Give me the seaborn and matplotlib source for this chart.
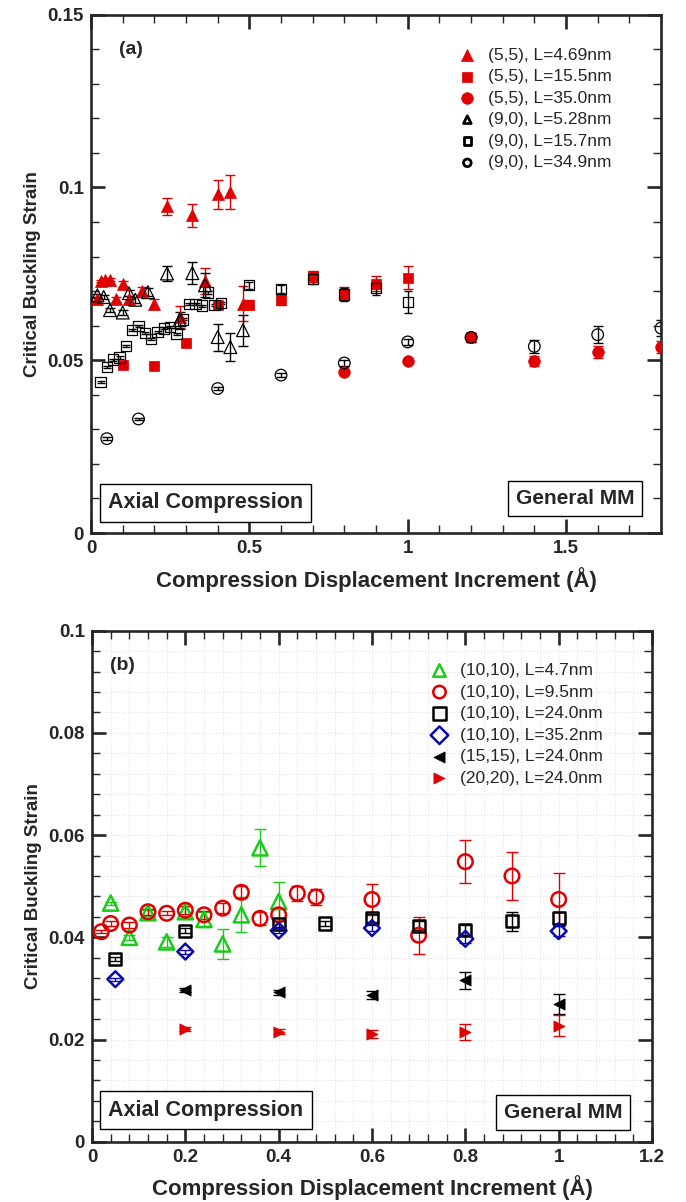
import numpy as np
import pandas as pd
import matplotlib
matplotlib.use("Agg")
import matplotlib.pyplot as plt
import seaborn as sns
from matplotlib.ticker import MultipleLocator, FuncFormatter

# ---------------- panel (a): (5,5) armchair vs (9,0) zigzag ----------------
a55_s_x = [0.02, 0.03, 0.045, 0.06, 0.08, 0.10, 0.12, 0.16, 0.20, 0.24, 0.28, 0.32, 0.36, 0.40, 0.44, 0.48]
a55_s_y = [0.0676, 0.0729, 0.0733, 0.0733, 0.0676, 0.0720, 0.0676, 0.0700, 0.0662, 0.0945, 0.0625,
           0.0919, 0.0729, 0.0980, 0.0987, 0.0664]
a55_s_e = [0.0004, 0.0004, 0.0004, 0.0004, 0.0008, 0.0008, 0.0010, 0.0012, 0.0015, 0.0025, 0.0031,
           0.0034, 0.0038, 0.0042, 0.0048, 0.0050]

a55_m_x = [0.10, 0.20, 0.30, 0.40, 0.50, 0.60, 0.70, 0.80, 0.90, 1.00]
a55_m_y = [0.0486, 0.0483, 0.0550, 0.0659, 0.0661, 0.0675, 0.0743, 0.0693, 0.0722, 0.0739]
a55_m_e = [0.0003, 0.0003, 0.0004, 0.0006, 0.0012, 0.0015, 0.0016, 0.0018, 0.0022, 0.0034]

a55_l_x = [0.8, 1.0, 1.2, 1.4, 1.6, 1.8]
a55_l_y = [0.0466, 0.0498, 0.0566, 0.0498, 0.0524, 0.0538]
a55_l_e = [0.0004, 0.0006, 0.0012, 0.0015, 0.0018, 0.0018]

a90_s_x = [0.02, 0.04, 0.06, 0.10, 0.12, 0.14, 0.18, 0.24, 0.28, 0.32, 0.36, 0.40, 0.44, 0.48]
a90_s_y = [0.0688, 0.0683, 0.0645, 0.0638, 0.0694, 0.0675, 0.0697, 0.0751, 0.0616, 0.0752, 0.0717,
           0.0567, 0.0538, 0.0587]
a90_s_e = [0.0005, 0.0005, 0.0006, 0.0007, 0.0008, 0.0009, 0.0012, 0.0021, 0.0025, 0.0032, 0.0035,
           0.0039, 0.0041, 0.0045]

a90_m_x = [0.03, 0.05, 0.07, 0.09, 0.11, 0.13, 0.15, 0.17, 0.19, 0.21, 0.23, 0.25, 0.27, 0.29, 0.31,
           0.33, 0.35, 0.37, 0.39, 0.41, 0.50, 0.60, 0.70, 0.80, 0.90, 1.00]
a90_m_y = [0.0436, 0.0481, 0.0502, 0.0508, 0.0542, 0.0587, 0.0599, 0.0579, 0.0562, 0.0582, 0.0592,
           0.0596, 0.0577, 0.0618, 0.0662, 0.0662, 0.0658, 0.0696, 0.0659, 0.0666, 0.0717, 0.0707,
           0.0736, 0.0690, 0.0710, 0.0669]
a90_m_e = [0.0003] * 20 + [0.0010, 0.0012, 0.0016, 0.0018, 0.0022, 0.0031]

a90_l_x = [0.05, 0.15, 0.40, 0.60, 0.80, 1.00, 1.20, 1.40, 1.60, 1.80]
a90_l_y = [0.0273, 0.0330, 0.0418, 0.0457, 0.0492, 0.0553, 0.0566, 0.0540, 0.0574, 0.0593]
a90_l_e = [0.0004, 0.0004, 0.0005, 0.0006, 0.0008, 0.0008, 0.0012, 0.0020, 0.0024, 0.0024]

a_labels = ["(5,5), L=4.69nm", "(5,5), L=15.5nm", "(5,5), L=35.0nm",
            "(9,0), L=5.28nm", "(9,0), L=15.7nm", "(9,0), L=34.9nm"]
a_xticks = [0, 0.5, 1, 1.5]
a_yticks = [0, 0.05, 0.1, 0.15]

# ---------------- panel (b): larger armchair tubes ----------------
b1010a_x = [0.04, 0.08, 0.12, 0.16, 0.20, 0.24, 0.28, 0.32, 0.36, 0.40]
b1010a_y = [0.0467, 0.0400, 0.0448, 0.0391, 0.0450, 0.0435, 0.0387, 0.0444, 0.0575, 0.0470]
b1010a_e = [0.0003, 0.0005, 0.0006, 0.0010, 0.0012, 0.0015, 0.0030, 0.0034, 0.0036, 0.0039]

b1010b_x = [0.02, 0.04, 0.08, 0.12, 0.16, 0.20, 0.24, 0.28, 0.32, 0.36, 0.40, 0.44, 0.48,
            0.60, 0.70, 0.80, 0.90, 1.00]
b1010b_y = [0.0411, 0.0427, 0.0424, 0.0450, 0.0447, 0.0453, 0.0444, 0.0457, 0.0488, 0.0437,
            0.0444, 0.0486, 0.0479, 0.0474, 0.0404, 0.0548, 0.0520, 0.0474]
b1010b_e = [0.0003, 0.0004, 0.0005, 0.0006, 0.0004, 0.0008, 0.0008, 0.0010, 0.0012, 0.0012,
            0.0013, 0.0015, 0.0016, 0.0031, 0.0036, 0.0042, 0.0047, 0.0051]

b1010c_x = [0.05, 0.2, 0.4, 0.5, 0.6, 0.7, 0.8, 0.9, 1.0]
b1010c_y = [0.0358, 0.0413, 0.0426, 0.0427, 0.0437, 0.0423, 0.0414, 0.0431, 0.0437]
b1010c_e = [0.0004, 0.0005, 0.0005, 0.0005, 0.0008, 0.0008, 0.0010, 0.0019, 0.0012]

b1010d_x = [0.05, 0.2, 0.4, 0.6, 0.8, 1.0]
b1010d_y = [0.0318, 0.0372, 0.0413, 0.0418, 0.0397, 0.0412]
b1010d_e = [0.0003, 0.0004, 0.0005, 0.0006, 0.0008, 0.0010]

b1515_x = [0.2, 0.4, 0.6, 0.8, 1.0]
b1515_y = [0.0296, 0.0292, 0.0287, 0.0316, 0.0269]
b1515_e = [0.0004, 0.0005, 0.0008, 0.0017, 0.0020]

b2020_x = [0.2, 0.4, 0.6, 0.8, 1.0]
b2020_y = [0.0220, 0.0215, 0.0211, 0.0215, 0.0227]
b2020_e = [0.0004, 0.0005, 0.0008, 0.0016, 0.0020]

b_labels = ["(10,10), L=4.7nm", "(10,10), L=9.5nm", "(10,10), L=24.0nm",
            "(10,10), L=35.2nm", "(15,15), L=24.0nm", "(20,20), L=24.0nm"]
b_xticks = [0, 0.2, 0.4, 0.6, 0.8, 1, 1.2]
b_yticks = [0, 0.02, 0.04, 0.06, 0.08, 0.1]

# ---------------- styling ----------------
sns.set_style("ticks")
plt.rcParams["font.family"] = ["Liberation Sans", "DejaVu Sans"]
plt.rcParams["axes.linewidth"] = 1.9

RED = "#e00000"
GREEN = "#19cc19"
BLUE = "#0a0aa8"
BLACK = "#000000"


def draw_series(ax, x, y, err, label, marker, color, size, filled, lw, capsize, elw):
    df = pd.DataFrame({"x": x, "y": y})
    ax.errorbar(x, y, yerr=err, fmt="none", ecolor=color, elinewidth=elw,
                capsize=capsize, capthick=elw, zorder=2)
    if filled:
        kw = dict(color=color, edgecolor=color, linewidth=0.5)
    else:
        kw = dict(facecolor="none", edgecolor=color, linewidth=lw)
    sns.scatterplot(data=df, x="x", y="y", marker=marker, s=size, ax=ax,
                    label=label, zorder=3, legend=False, **kw)


def style_axes(ax, xlim, ylim, xmin, ymin, xticks, yticks):
    ax.set_xlim(*xlim)
    ax.set_ylim(*ylim)
    ax.set_xticks(xticks)
    ax.set_yticks(yticks)
    ax.xaxis.set_minor_locator(MultipleLocator(xmin))
    ax.yaxis.set_minor_locator(MultipleLocator(ymin))
    fmt = FuncFormatter(lambda v, p: f"{v:g}")
    ax.xaxis.set_major_formatter(fmt)
    ax.yaxis.set_major_formatter(fmt)
    ax.tick_params(which="both", direction="in", top=True, right=True)
    ax.tick_params(which="major", length=10, width=1.9, labelsize=13.5, pad=5)
    ax.tick_params(which="minor", length=5.5, width=1.0)
    for lab in ax.get_xticklabels() + ax.get_yticklabels():
        lab.set_fontweight("bold")
    for sp in ax.spines.values():
        sp.set_visible(True)
        sp.set_linewidth(1.9)
    ax.set_xlabel("Compression Displacement Increment (\u00c5)", fontsize=16,
                  fontweight="bold", labelpad=7)
    ax.set_ylabel("Critical Buckling Strain", fontsize=13.5, fontweight="bold", labelpad=5)


def add_boxes(ax, panel, panel_x, left_pos, right_pos):
    ax.text(panel_x, 0.932, panel, transform=ax.transAxes,
            fontsize=14, fontweight="bold", ha="center", va="center")
    box = dict(boxstyle="square,pad=0.38", fc="white", ec="black", lw=1.0)
    ax.text(*left_pos, "Axial Compression", transform=ax.transAxes, fontsize=15.5,
            fontweight="bold", ha="center", va="center", bbox=box, zorder=5)
    ax.text(*right_pos, "General MM", transform=ax.transAxes, fontsize=15,
            fontweight="bold", ha="center", va="center", bbox=box, zorder=5)


def finish_legend(ax, anchor, open_idx, open_size, open_lw):
    leg = ax.legend(loc="upper left", bbox_to_anchor=anchor, frameon=False, fontsize=12.5,
                    handlelength=1.0, handletextpad=0.7, labelspacing=0.37, borderpad=0,
                    borderaxespad=0, scatterpoints=1)
    handles = leg.legend_handles
    for i in open_idx:
        handles[i].set_sizes([open_size])
        handles[i].set_linewidth(open_lw)
    return leg


fig = plt.figure(figsize=(6.86, 12.02), dpi=100)
ax_a = fig.add_axes([91 / 686, 1 - 533 / 1202, 570 / 686, 518.3 / 1202])
ax_b = fig.add_axes([92 / 686, 1 - 1141.7 / 1202, 560 / 686, 511 / 1202])

# panel (a)
draw_series(ax_a, a55_s_x, a55_s_y, a55_s_e, a_labels[0], "^", RED, 75, True, 1.0, 3.5, 1.0)
draw_series(ax_a, a55_m_x, a55_m_y, a55_m_e, a_labels[1], "s", RED, 50, True, 1.0, 3.5, 1.0)
draw_series(ax_a, a55_l_x, a55_l_y, a55_l_e, a_labels[2], "o", RED, 70, True, 1.0, 3.5, 1.0)
draw_series(ax_a, a90_s_x, a90_s_y, a90_s_e, a_labels[3], "^", BLACK, 85, False, 0.9, 3.5, 1.0)
draw_series(ax_a, a90_m_x, a90_m_y, a90_m_e, a_labels[4], "s", BLACK, 55, False, 0.9, 3.0, 1.0)
draw_series(ax_a, a90_l_x, a90_l_y, a90_l_e, a_labels[5], "o", BLACK, 70, False, 0.9, 3.5, 1.0)
style_axes(ax_a, (0, 1.8), (0, 0.15), 0.1, 0.01, a_xticks, a_yticks)
add_boxes(ax_a, "(a)", 0.07, (0.201, 0.058), (0.849, 0.067))
finish_legend(ax_a, (0.645, 0.937), [3, 4, 5], 30, 2.0)

# panel (b)
ax_b.grid(which="both", linestyle=":", color="#e2e2e2", linewidth=0.8, zorder=0)
ax_b.set_axisbelow(True)
draw_series(ax_b, b1010a_x, b1010a_y, b1010a_e, b_labels[0], "^", GREEN, 120, False, 1.8, 4.0, 1.0)
draw_series(ax_b, b1010b_x, b1010b_y, b1010b_e, b_labels[1], "o", RED, 110, False, 1.8, 4.0, 1.0)
draw_series(ax_b, b1010c_x, b1010c_y, b1010c_e, b_labels[2], "s", BLACK, 75, False, 1.8, 4.0, 1.0)
draw_series(ax_b, b1010d_x, b1010d_y, b1010d_e, b_labels[3], "D", BLUE, 65, False, 1.8, 4.0, 1.0)
draw_series(ax_b, b1515_x, b1515_y, b1515_e, b_labels[4], "<", BLACK, 65, True, 1.0, 4.0, 1.0)
draw_series(ax_b, b2020_x, b2020_y, b2020_e, b_labels[5], ">", RED, 65, True, 1.0, 4.0, 1.0)
style_axes(ax_b, (0, 1.2), (0, 0.1), 0.04, 0.004, b_xticks, b_yticks)
add_boxes(ax_b, "(b)", 0.055, (0.2036, 0.062), (0.841, 0.057))
finish_legend(ax_b, (0.605, 0.937), [0, 1, 2, 3], 80, 1.8)

fig.savefig("out.png", dpi=100)
